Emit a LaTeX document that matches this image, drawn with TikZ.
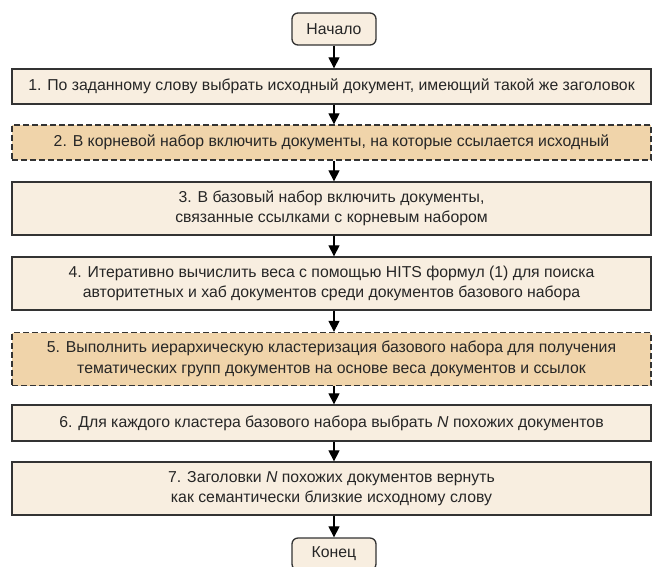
\documentclass[tikz,border=0pt]{standalone}
\usepackage{fontspec}
\setmainfont{Liberation Sans}
\usetikzlibrary{arrows.meta}
\definecolor{lightfill}{HTML}{F8EEE0}
\definecolor{darkfill}{HTML}{F0D4AA}
\definecolor{edge}{HTML}{333333}
\begin{document}
\begin{tikzpicture}[x=1pt,y=-1pt,
  base/.style={draw=edge, line width=1.3pt, align=center, inner sep=0pt, font=\fontsize{15.8}{20.5}\selectfont, text=black!85},
  termbox/.style={base, fill=lightfill, rounded corners=6pt, minimum width=84pt, minimum height=32pt},
  stepbox/.style={base, fill=lightfill, minimum width=639pt},
  dashbox/.style={base, fill=darkfill, dashed, dash pattern=on 6pt off 3pt, minimum width=639pt},
  arr/.style={draw=black, line width=1.1pt, -{Triangle[width=11pt,length=11pt]}}]
\useasboundingbox (0,0) rectangle (652,566);
\node[termbox] (start) at (334,29) {Начало};
\node[stepbox, minimum height=35pt] (b1) at (331.5,86.5) {1. По заданному слову выбрать исходный документ, имеющий такой же заголовок};
\node[dashbox, minimum height=35pt] (b2) at (331.5,142.5) {2. В корневой набор включить документы, на которые ссылается исходный};
\node[stepbox, minimum height=53pt] (b3) at (331.5,208.5) {3. В базовый набор включить документы,\\связанные ссылками с корневым набором};
\node[stepbox, minimum height=53pt] (b4) at (331.5,283.5) {4. Итеративно вычислить веса с помощью HITS формул (1) для поиска\\авторитетных и хаб документов среди документов базового набора};
\node[dashbox, minimum height=53pt] (b5) at (331.5,359) {5. Выполнить иерархическую кластеризация базового набора для получения\\тематических групп документов на основе веса документов и ссылок};
\node[stepbox, minimum height=36pt] (b6) at (331.5,423) {6. Для каждого кластера базового набора выбрать \textit{N} похожих документов};
\node[stepbox, minimum height=53pt] (b7) at (331.5,488.5) {7. Заголовки \textit{N} похожих документов вернуть\\как семантически близкие исходному слову};
\node[termbox] (end) at (334,554) {Конец};
\draw[arr] (start.south) -- (start.south |- b1.north);
\draw[arr] (start.south |- b1.south) -- (start.south |- b2.north);
\draw[arr] (start.south |- b2.south) -- (start.south |- b3.north);
\draw[arr] (start.south |- b3.south) -- (start.south |- b4.north);
\draw[arr] (start.south |- b4.south) -- (start.south |- b5.north);
\draw[arr] (start.south |- b5.south) -- (start.south |- b6.north);
\draw[arr] (start.south |- b6.south) -- (start.south |- b7.north);
\draw[arr] (start.south |- b7.south) -- (end.north);
\end{tikzpicture}
\end{document}
